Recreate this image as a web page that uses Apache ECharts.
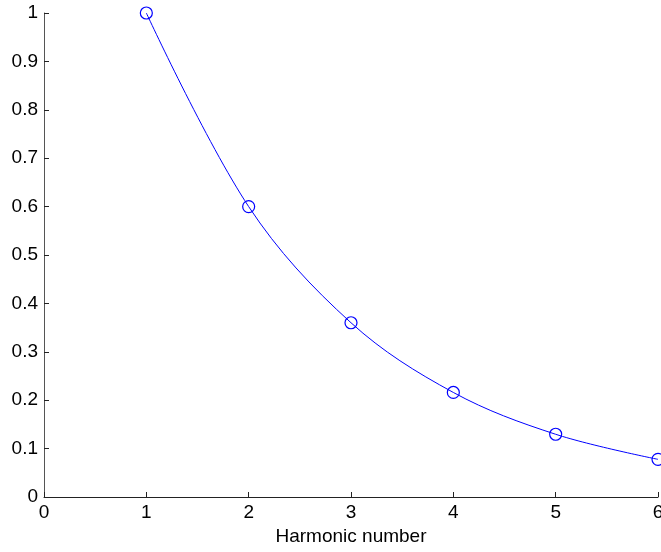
<!DOCTYPE html>
<html>
<head>
<meta charset="utf-8">
<script src="https://cdn.jsdelivr.net/npm/echarts@6/dist/echarts.min.js"></script>
<style>html,body{margin:0;padding:0;background:#fff;}#c{width:661px;height:552px;}</style>
</head>
<body>
<div id="c"></div>
<script>
const harmonics = [1, 2, 3, 4, 5, 6];
const amplitudes = [1, 0.6, 0.36, 0.216, 0.1296, 0.0778];
const xTicks = [0, 1, 2, 3, 4, 5, 6];
const yTicks = [0, 0.1, 0.2, 0.3, 0.4, 0.5, 0.6, 0.7, 0.8, 0.9, 1];
const xLabel = 'Harmonic number';

const chart = echarts.init(document.getElementById('c'));
const font = 'Liberation Sans, Arial, sans-serif';
chart.setOption({
  animation: false,
  grid: { left: 44, right: 3, top: 13, bottom: 55, outerBoundsMode: 'none', containLabel: false },
  xAxis: {
    type: 'value', min: xTicks[0], max: xTicks[xTicks.length - 1], interval: 1,
    name: xLabel, nameLocation: 'middle', nameGap: 30,
    nameTextStyle: { color: '#000', fontSize: 19, fontFamily: font },
    axisLine: { show: true, lineStyle: { color: '#222', width: 1 } },
    axisTick: { show: true, inside: true, length: 5, lineStyle: { color: '#222' } },
    axisLabel: { color: '#000', fontSize: 19, fontFamily: font, margin: 6 },
    splitLine: { show: false }
  },
  yAxis: {
    type: 'value', min: yTicks[0], max: yTicks[yTicks.length - 1], interval: 0.1,
    axisLine: { show: true, lineStyle: { color: '#555', width: 1 } },
    axisTick: { show: true, inside: true, length: 5, lineStyle: { color: '#222' } },
    axisLabel: { color: '#000', fontSize: 19, fontFamily: font, margin: 6 },
    splitLine: { show: false }
  },
  series: [{
    type: 'line',
    data: harmonics.map((h, i) => [h, amplitudes[i]]),
    smooth: 0.35,
    clip: false,
    symbol: 'circle',
    symbolSize: 12,
    lineStyle: { color: '#0000ff', width: 1 },
    itemStyle: { color: 'rgba(0,0,0,0)', borderColor: '#0000ff', borderWidth: 1.2 }
  }]
});
</script>
</body>
</html>
